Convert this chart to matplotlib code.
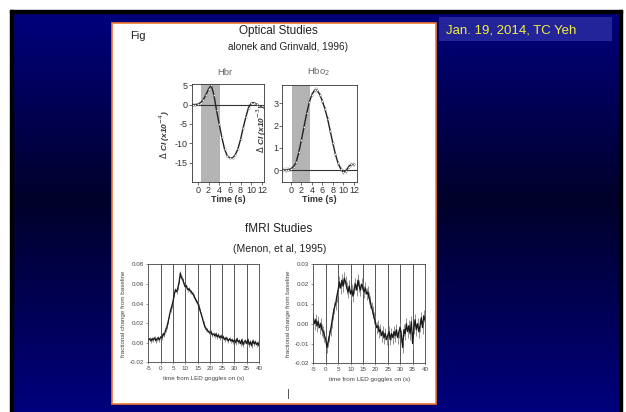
import numpy as np
import matplotlib
matplotlib.use("Agg")
import matplotlib.pyplot as plt
from matplotlib.patches import Rectangle

plt.rcParams['font.family'] = ['Liberation Sans', 'DejaVu Sans']
plt.rcParams['axes.unicode_minus'] = False

# ---------------- data ----------------
hbr_t = [-1, -0.5, 0, 0.5, 1, 1.5, 2, 2.5, 3, 3.5, 4, 4.5, 5, 5.5, 6, 6.5, 7,
         7.5, 8, 8.5, 9, 9.5, 10, 10.5, 11, 11.5, 12]
hbr_v = [0, 0, 0.1, 0.5, 1.2, 2.5, 4.0, 5.0, 2.5, -1.5, -5.0, -8.5, -11.5, -13.2,
         -13.8, -13.8, -13.0, -11.5, -9.0, -6.0, -3.2, -0.8, 0.4, 0.5, 0.1, -0.3, -0.5]

hbo_t = [-1.5, -1, -0.5, 0, 0.5, 1, 1.5, 2, 2.5, 3, 3.5, 4, 4.5, 5, 5.5, 6, 6.5,
         7, 7.5, 8, 8.5, 9, 9.5, 10, 10.5, 11, 11.5, 12]
hbo_v = [0.02, 0.0, 0.02, 0.05, 0.15, 0.35, 0.8, 1.35, 1.95, 2.55, 3.05, 3.4, 3.6,
         3.6, 3.4, 3.1, 2.75, 2.3, 1.75, 1.2, 0.7, 0.3, 0.05, -0.1, -0.05, 0.15, 0.25, 0.25]

fmri_left = [0.003, 0.004, 0.002, 0.004, 0.003, 0.005, 0.002, 0.004, 0.005, 0.003,
             0.006, 0.005, 0.009, 0.008, 0.013, 0.016, 0.021, 0.027, 0.033, 0.037,
             0.042, 0.049, 0.054, 0.052, 0.056, 0.062, 0.071, 0.066, 0.064, 0.060,
             0.057, 0.058, 0.054, 0.055, 0.053, 0.052, 0.050, 0.048, 0.045, 0.043,
             0.041, 0.037, 0.033, 0.029, 0.025, 0.020, 0.016, 0.014, 0.013, 0.011,
             0.010, 0.011, 0.008, 0.009, 0.007, 0.009, 0.006, 0.008, 0.005, 0.007,
             0.005, 0.006, 0.003, 0.005, 0.004, 0.002, 0.004, 0.002, 0.003, 0.001,
             0.003, 0.000, 0.004, 0.001, 0.002, -0.001, 0.003, -0.002, 0.001, 0.002,
             -0.001, 0.003, -0.002, 0.001, -0.003, 0.002, -0.001, 0.001, -0.002, 0.000,
             -0.003]
fmri_right = [0.003, 0.000, 0.002, -0.001, 0.001, -0.002, 0.000, -0.003, -0.004, -0.006,
              -0.008, -0.012, -0.009, -0.006, -0.003, 0.001, 0.005, 0.008, 0.010, 0.014,
              0.017, 0.021, 0.018, 0.022, 0.019, 0.023, 0.021, 0.018, 0.016, 0.019,
              0.015, 0.017, 0.014, 0.018, 0.020, 0.017, 0.022, 0.019, 0.017, 0.020,
              0.018, 0.016, 0.018, 0.015, 0.016, 0.013, 0.011, 0.008, 0.006, 0.003,
              0.001, -0.002, -0.001, -0.004, -0.003, -0.006, -0.004, -0.007, -0.005, -0.008,
              -0.006, -0.004, -0.008, -0.005, -0.007, -0.004, -0.006, -0.003, -0.007, -0.004,
              -0.002, -0.006, -0.012, -0.003, -0.005, 0.000, -0.004, -0.001, -0.005, 0.001,
              -0.010, -0.002, 0.002, -0.003, 0.000, -0.004, -0.001, 0.003, -0.002, 0.004,
              0.002]
fmri_err_left = 0.002
fmri_err_right = 0.003
fmri_t0, fmri_dt = -5.0, 0.5

W, H = 626, 412
fig = plt.figure(figsize=(W / 100, H / 100), dpi=100)
fig.patch.set_facecolor('white')

def px_axes(x0, y0, x1, y1, **kw):
    return fig.add_axes([x0 / W, 1 - y1 / H, (x1 - x0) / W, (y1 - y0) / H], **kw)

# ---------------- background ----------------
bg = fig.add_axes([0, 0, 1, 1])
bg.set_xlim(0, W)
bg.set_ylim(H, 0)
bg.axis('off')
ys = np.arange(13, H + 1)
b = np.interp(ys, [13, 200, H], [125, 42, 125]) / 255.0
grad = np.zeros((len(ys), 1, 3))
grad[:, 0, 2] = b
bg.imshow(grad, extent=[13, 619, H, 13], aspect='auto', interpolation='bilinear', zorder=1)
bg.add_patch(Rectangle((10, 10), 612, 3, color='black', zorder=2))
bg.add_patch(Rectangle((10, 10), 3, H - 10, color='black', zorder=2))
bg.add_patch(Rectangle((619, 10), 3, H - 10, color='black', zorder=2))
# white panel
bg.add_patch(Rectangle((112, 23), 324, 381, facecolor='white', edgecolor='#f07832',
                       linewidth=1.2, zorder=3))
# date box
bg.add_patch(Rectangle((439, 17), 173, 24, facecolor='#24249a', edgecolor='none', zorder=3))
bg.text(446, 30, 'Jan. 19, 2014, TC Yeh', color='#f2f23a', fontsize=9.5,
        va='center', ha='left', zorder=4)

tc = '#222222'
bg.text(130, 36, 'Fig', fontsize=8, color=tc, va='center', ha='left', zorder=4)
bg.text(278, 31, 'Optical Studies', fontsize=8.5, color=tc, va='center', ha='center', zorder=4)
bg.text(288, 47, 'alonek and Grinvald, 1996)', fontsize=7.2, color=tc, va='center',
        ha='center', zorder=4)
bg.text(225, 72, 'Hbr', fontsize=6.8, color='#666666', va='center', ha='center', zorder=4)
bg.text(319, 72, 'Hbo$_2$', fontsize=6.8, color='#666666', va='center', ha='center', zorder=4)
bg.text(279, 229, 'fMRI Studies', fontsize=8.5, color=tc, va='center', ha='center', zorder=4)
bg.text(280, 249, '(Menon, et al, 1995)', fontsize=7.5, color=tc, va='center',
        ha='center', zorder=4)
bg.plot([288, 288], [389, 398], color='#555555', lw=0.7, zorder=4)

# ---------------- optical axes ----------------
def style_opt(ax):
    for s in ax.spines.values():
        s.set_linewidth(0.6)
        s.set_color('#333333')
    ax.tick_params(direction='out', length=2, width=0.5, labelsize=6.5,
                   colors='#333333', pad=1)
    ax.set_xticks([0, 2, 4, 6, 8, 10, 12])
    ax.set_xlabel('Time (s)', fontsize=6.5, fontweight='bold', color='#333333', labelpad=0)

ax1 = px_axes(192, 84, 264, 182)
ax1.set_xlim(-1.1, 12.4)
ax1.set_ylim(-20, 5.3)
ax1.axvspan(0.5, 4.1, color='#b4b4b4', lw=0)
ax1.axhline(0, color='#333333', lw=0.8)
ax1.plot(hbr_t, hbr_v, color='#222222', lw=1.0, marker='o', ms=1.2, mfc='white',
         mec='#777777', mew=0.3)
ax1.set_yticks([5, 0, -5, -10, -15])
ax1.set_yticklabels(['5', '0', '-5', '-10', '-15'])
style_opt(ax1)
ax1.set_ylabel(r'$\Delta$ CI (x10$^{-4}$)', fontsize=6, fontweight='bold',
               fontstyle='italic', color='#333333', labelpad=1)
ax1.yaxis.set_label_coords(-0.28, 0.49)

ax2 = px_axes(282, 85, 357, 182)
ax2.set_xlim(-1.7, 12.6)
ax2.set_ylim(-0.54, 3.83)
ax2.axvspan(0.2, 3.7, color='#b4b4b4', lw=0)
ax2.axhline(0, color='#333333', lw=0.8)
ax2.errorbar(hbo_t, hbo_v, yerr=0.08, color='#222222', lw=1.0, ecolor='#888888',
             elinewidth=0.4, capsize=0.8, marker='o', ms=1.2, mfc='white',
             mec='#777777', mew=0.3)
ax2.set_yticks([0, 1, 2, 3])
style_opt(ax2)
ax2.tick_params(axis='y', pad=0.5)
ax2.set_ylabel(r'$\Delta$ CI (x10$^{-3}$)', fontsize=6, fontweight='bold',
               fontstyle='italic', color='#333333', labelpad=1)
ax2.yaxis.set_label_coords(-0.17, 0.55)

# ---------------- fMRI axes ----------------
def fmri(ax, vals, err, ylim, yticks):
    t = fmri_t0 + fmri_dt * np.arange(len(vals))
    ax.set_xlim(-5, 40)
    ax.set_ylim(*ylim)
    for xv in [0, 5, 10, 15, 20, 25, 30, 35]:
        ax.axvline(xv, color='#555555', lw=0.7)
    ax.errorbar(t, vals, yerr=err, color='#1a1a1a', lw=0.95, ecolor='#808080',
                elinewidth=0.6, capsize=0)
    ax.set_xticks([-5, 0, 5, 10, 15, 20, 25, 30, 35, 40])
    ax.set_yticks(yticks)
    ax.set_yticklabels(['%.2f' % v for v in yticks])
    for s in ax.spines.values():
        s.set_linewidth(0.6)
        s.set_color('#444444')
    ax.tick_params(direction='out', length=1.5, width=0.4, labelsize=4.5,
                   colors='#444444', pad=1.5)
    ax.set_xlabel('time from LED goggles on (s)', fontsize=4.5, color='#444444', labelpad=3)
    ax.set_ylabel('fractional change from baseline', fontsize=4.5, color='#444444',
                  labelpad=3)

ax3 = px_axes(148.4, 264.3, 259, 362.3)
fmri(ax3, fmri_left, fmri_err_left, (-0.02, 0.08), [-0.02, 0.00, 0.02, 0.04, 0.06, 0.08])

ax4 = px_axes(313.3, 264.3, 425, 363.3)
fmri(ax4, fmri_right, fmri_err_right, (-0.02, 0.03), [-0.02, -0.01, 0.00, 0.01, 0.02, 0.03])

fig.savefig('out.png', dpi=100, facecolor='white')
